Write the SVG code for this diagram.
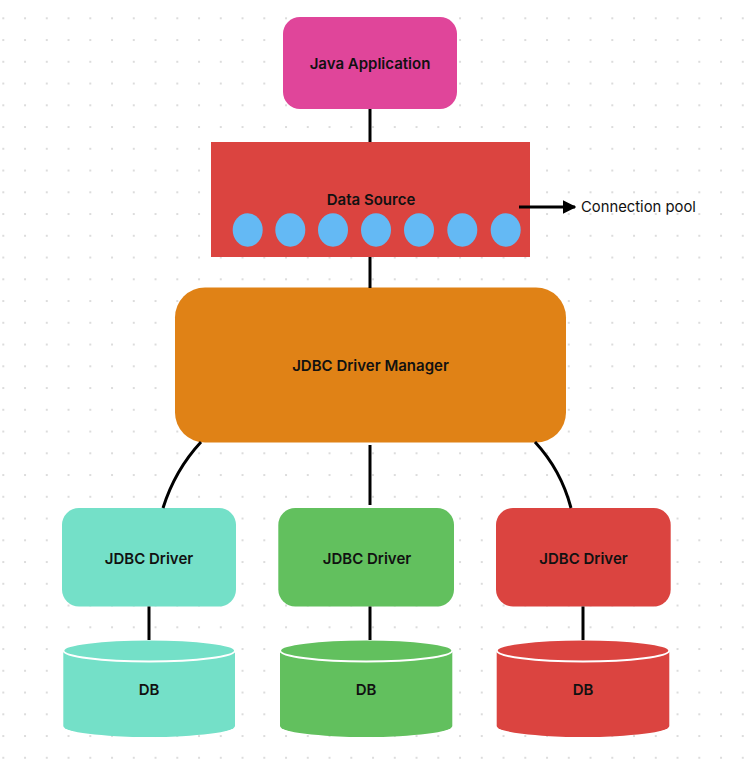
<svg xmlns="http://www.w3.org/2000/svg" width="750" height="761" viewBox="0 0 750 761">
<defs>
<pattern id="dots" x="2.3" y="17.3" width="21.75" height="21.75" patternUnits="userSpaceOnUse">
<circle cx="1" cy="1" r="1" fill="#d0d0d0"/>
</pattern>
<marker id="arrow" viewBox="0 0 10 10" refX="9" refY="5" markerWidth="4.5" markerHeight="4.5" markerUnits="strokeWidth" orient="auto">
<path d="M0,0 L10,5 L0,10 z" fill="#000"/>
</marker>
</defs>
<style>
.lbl{font-family:Inter,"Noto Sans","Liberation Sans",sans-serif;font-size:15px;font-weight:600;fill:#111;text-anchor:middle;dominant-baseline:central}
.plain{font-family:Inter,"Noto Sans","Liberation Sans",sans-serif;font-size:14.8px;font-weight:400;fill:#111;dominant-baseline:central}
.edge{stroke:#000;stroke-width:3;fill:none}
.pool{fill:#64B9F4}
.dbtop{stroke:#fff;stroke-width:2}
</style>
<rect width="750" height="761" fill="#fff"/>
<rect width="750" height="761" fill="url(#dots)"/>

<g id="java-app">
<rect x="283" y="17" width="174" height="92" rx="17" fill="#E0459A"/>
<text class="lbl" x="370" y="63">Java Application</text>
</g>

<g id="data-source">
<rect x="211" y="142" width="319" height="115" fill="#DB4440"/>
<text class="lbl" x="371" y="199">Data Source</text>
<ellipse class="pool" cx="247.7" cy="230" rx="15" ry="16.7"/>
<ellipse class="pool" cx="290.3" cy="230" rx="15" ry="16.7"/>
<ellipse class="pool" cx="333" cy="230" rx="15" ry="16.7"/>
<ellipse class="pool" cx="376" cy="230" rx="15" ry="16.7"/>
<ellipse class="pool" cx="419" cy="230" rx="15" ry="16.7"/>
<ellipse class="pool" cx="462.3" cy="230" rx="15" ry="16.7"/>
<ellipse class="pool" cx="505.7" cy="230" rx="15" ry="16.7"/>
</g>

<g id="connection-pool-label">
<text class="plain" x="581" y="207">Connection pool</text>
</g>

<g id="driver-manager">
<rect x="175" y="287.5" width="391" height="155" rx="30" fill="#E08216"/>
<text class="lbl" x="370.5" y="365">JDBC Driver Manager</text>
</g>

<g id="driver-1">
<rect x="62" y="508" width="174" height="98.5" rx="17" fill="#74E0C8"/>
<text class="lbl" x="149" y="558">JDBC Driver</text>
</g>
<g id="driver-2">
<rect x="278.3" y="508" width="175.7" height="98.5" rx="17" fill="#62C05E"/>
<text class="lbl" x="367" y="558">JDBC Driver</text>
</g>
<g id="driver-3">
<rect x="496" y="508" width="174.7" height="98.5" rx="17" fill="#DB4440"/>
<text class="lbl" x="583.5" y="558">JDBC Driver</text>
</g>

<g id="db-1">
<path d="M63.3,650.5 V726 A85.85,11 0 0 0 235,726 V650.5 Z" fill="#74E0C8"/>
<ellipse class="dbtop" cx="149.2" cy="650.5" rx="85.85" ry="11" fill="#74E0C8"/>
<text class="lbl" x="149" y="689">DB</text>
</g>
<g id="db-2">
<path d="M280,650.5 V726 A86.15,11 0 0 0 452.3,726 V650.5 Z" fill="#62C05E"/>
<ellipse class="dbtop" cx="366.2" cy="650.5" rx="86.15" ry="11" fill="#62C05E"/>
<text class="lbl" x="366" y="689">DB</text>
</g>
<g id="db-3">
<path d="M496.7,650.5 V726 A86.3,11 0 0 0 669.3,726 V650.5 Z" fill="#DB4440"/>
<ellipse class="dbtop" cx="583" cy="650.5" rx="86.3" ry="11" fill="#DB4440"/>
<text class="lbl" x="583" y="689">DB</text>
</g>

<g id="connectors">
<line class="edge" x1="370" y1="109" x2="370" y2="142"/>
<line class="edge" x1="370" y1="257" x2="370" y2="288"/>
<path class="edge" d="M201,442 Q175,470 163,508"/>
<line class="edge" x1="370" y1="445" x2="370" y2="505"/>
<path class="edge" d="M535,442 Q561,470 571,508"/>
<line class="edge" x1="149" y1="606.5" x2="149" y2="640"/>
<line class="edge" x1="370" y1="606.5" x2="370" y2="640"/>
<line class="edge" x1="583" y1="606.5" x2="583" y2="640"/>
<line class="edge" x1="519" y1="207" x2="575" y2="207" stroke-width="2.5" marker-end="url(#arrow)"/>
</g>
</svg>
